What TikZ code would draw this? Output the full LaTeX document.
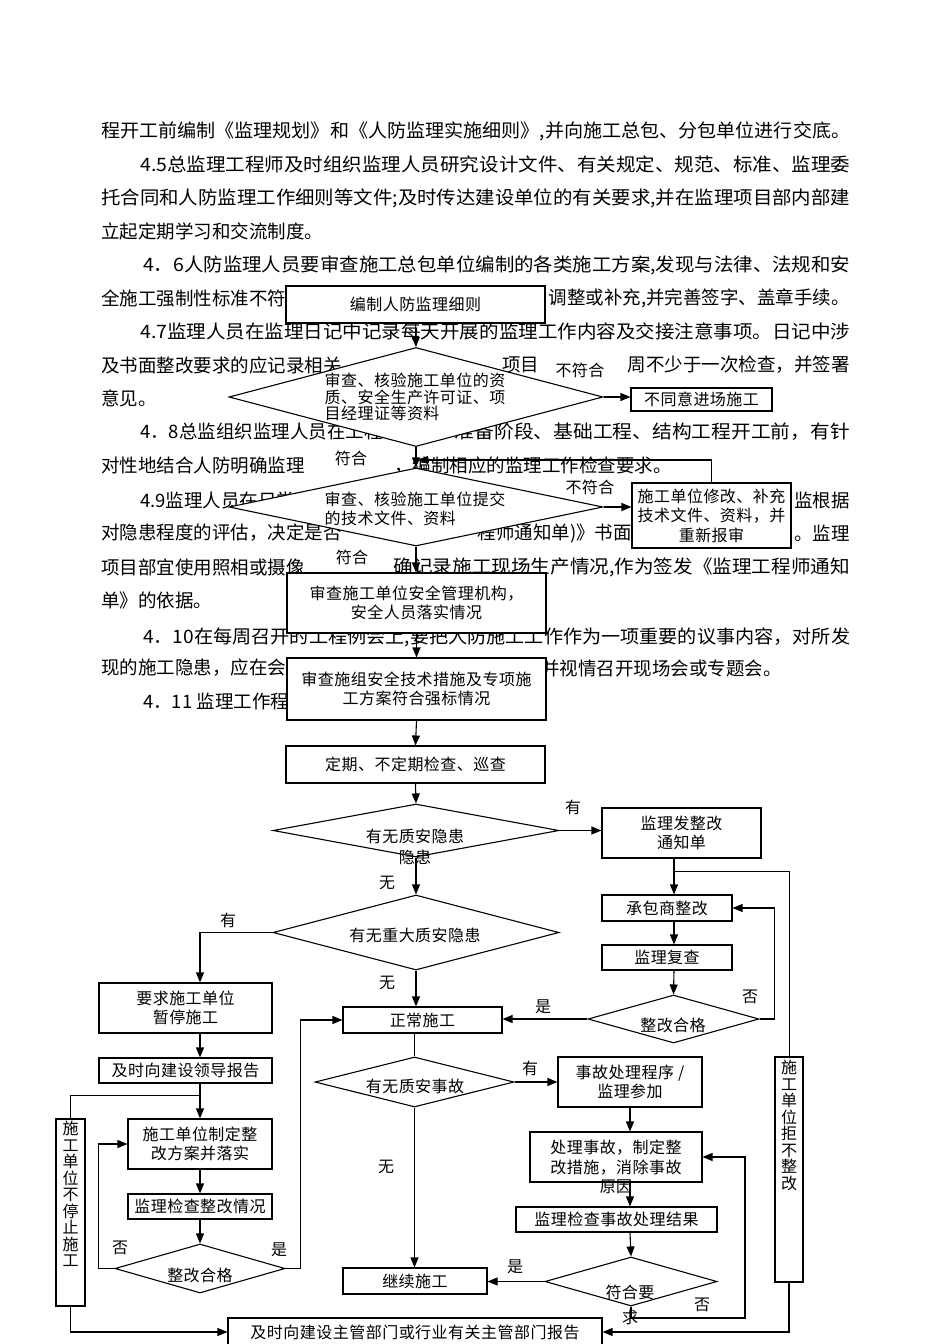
\documentclass[tikz,border=0pt]{standalone}
\usepackage{graphicx}
\usepackage{fontspec}
\setmainfont{Noto Sans CJK SC}
\newfontfamily\flowfont[LetterSpace=3]{Noto Sans CJK SC}
\usetikzlibrary{shapes.geometric,arrows.meta}
\newcommand{\fitline}[2]{\resizebox{#1}{\height}{#2}}

\begin{document}
\begin{tikzpicture}[x=1pt,y=-1pt]
       \tikzstyle{bodytext}=[inner sep=0pt, font=\fontsize{18.5}{20}\selectfont]
       \tikzstyle{flowbox}=[draw, fill=white, line width=1.1pt, inner sep=0pt, align=center, font=\flowfont\fontsize{16}{18.5}\selectfont]
       \tikzstyle{decision}=[draw, fill=white, shape=diamond, line width=1.1pt, inner sep=0pt]
       \tikzstyle{dtext}=[inner sep=0pt, align=center, font=\flowfont\fontsize{16}{16.5}\selectfont]
       \tikzstyle{tag}=[inner sep=1pt, font=\flowfont\fontsize{16}{16.5}\selectfont]
       \tikzstyle{link}=[draw, line width=1.1pt, -{Triangle[length=10pt,width=8pt]}]
       \useasboundingbox (0,0) rectangle (950,1344);
       \fill[white] (0,0) rectangle (950,1344);

       % body text of the page
       \node[bodytext, anchor=west] (p1) at (101,131) {\fitline{749pt}{程开工前编制《监理规划》和《人防监理实施细则》,并向施工总包、分包单位进行交底。}};
       \node[bodytext, anchor=west] (p2) at (140,164) {\fitline{710pt}{4.5总监理工程师及时组织监理人员研究设计文件、有关规定、规范、标准、监理委}};
       \node[bodytext, anchor=west] (p3) at (101,198) {\fitline{749pt}{托合同和人防监理工作细则等文件;及时传达建设单位的有关要求,并在监理项目部内部建}};
       \node[bodytext, anchor=west] (p4) at (101,231) {立起定期学习和交流制度。};
       \node[bodytext, anchor=west] (p5) at (143,265) {\fitline{707pt}{4．6人防监理人员要审查施工总包单位编制的各类施工方案,发现与法律、法规和安}};
       \node[bodytext, anchor=west] (p6a) at (101,298) {全施工强制性标准不符};
       \node[bodytext, anchor=east] (p6b) at (850,298) {调整或补充,并完善签字、盖章手续。};
       \node[bodytext, anchor=west] (p7) at (140,331) {\fitline{710pt}{4.7监理人员在监理日记中记录每天开展的监理工作内容及交接注意事项。日记中涉}};
       \node[bodytext, anchor=west] (p8a) at (101,365) {及书面整改要求的应记录相关};
       \node[bodytext, anchor=west] (p8b) at (502,365) {项目};
       \node[bodytext, anchor=east] (p8c) at (850,365) {周不少于一次检查，并签署};
       \node[bodytext, anchor=west] (p9) at (101,398) {意见。};
       \node[bodytext, anchor=west] (p10a) at (140,432) {4．8总监组织监理人员在工程};
       \node[bodytext, anchor=east] (p10b) at (850,432) {\fitline{395pt}{准备阶段、基础工程、结构工程开工前，有针}};
       \node[bodytext, anchor=west] (p11a) at (101,466) {对性地结合人防明确监理};
       \node[bodytext, anchor=east] (p11b) at (672,466) {，编制相应的监理工作检查要求。};
       \node[bodytext, anchor=west] (p12a) at (140,500) {4.9监理人员在日常};
       \node[bodytext, anchor=east] (p12b) at (850,500) {监根据};
       \node[bodytext, anchor=west] (p13a) at (101,533) {对隐患程度的评估，决定是否};
       \node[bodytext, anchor=east] (p13b) at (632,533) {程师通知单)》书面};
       \node[bodytext, anchor=east] (p13c) at (850,533) {。监理};
       \node[bodytext, anchor=west] (p14a) at (101,567) {项目部宜使用照相或摄像};
       \node[bodytext, anchor=east] (p14b) at (850,567) {\fitline{456pt}{确记录施工现场生产情况,作为签发《监理工程师通知}};
       \node[bodytext, anchor=west] (p15) at (101,600) {单》的依据。};
       \node[bodytext, anchor=west] (p16) at (143,637) {\fitline{707pt}{4．10在每周召开的工程例会上,要把人防施工工作作为一项重要的议事内容，对所发}};
       \node[bodytext, anchor=west] (p17a) at (101,668) {现的施工隐患，应在会};
       \node[bodytext, anchor=west] (p17b) at (541,668) {并视情召开现场会或专题会。};
       \node[bodytext, anchor=west] (p18) at (143,701) {4．11 监理工作程序};

       % entry checks
       \node[flowbox, minimum width=259pt, minimum height=37pt] (plan) at (415.5,304.5) {编制人防监理细则};
       \node[decision, minimum width=374pt, minimum height=99pt] (qual) at (416,397) {};
       \node[dtext, align=left] (qualtxt) at (415,397) {审查、核验施工单位的资\\质、安全生产许可证、项\\目经理证等资料};
       \node[flowbox, minimum width=141pt, minimum height=23pt] (reject) at (701.5,399.5) {不同意进场施工};
       \node[decision, minimum width=374pt, minimum height=78pt] (tech) at (416,507) {};
       \node[dtext, align=left, font=\flowfont\fontsize{16}{19}\selectfont] (techtxt) at (415,508.5) {审查、核验施工单位提交\\的技术文件、资料};
       \node[flowbox, minimum width=159pt, minimum height=65pt, font=\flowfont\fontsize{16}{19.5}\selectfont] (revise) at (711.5,515.5) {施工单位修改、补充\\技术文件、资料，并\\重新报审};
       \node[flowbox, minimum width=259pt, minimum height=60pt] (staff) at (416.5,603) {审查施工单位安全管理机构，\\安全人员落实情况};
       \node[flowbox, minimum width=259pt, minimum height=62pt] (measure) at (416.5,689) {审查施组安全技术措施及专项施\\工方案符合强标情况};
       \node[flowbox, minimum width=259pt, minimum height=37pt] (patrol) at (415.5,764.5) {定期、不定期检查、巡查};

       % hazards
       \node[decision, minimum width=286pt, minimum height=53pt] (hazard) at (416,830.5) {};
       \node[dtext, font=\flowfont\fontsize{16}{21}\selectfont] (hazardtxt) at (415,847) {有无质安隐患\\隐患};
       \node[flowbox, minimum width=159pt, minimum height=50pt] (notice) at (681.5,833) {监理发整改\\通知单};
       \node[decision, minimum width=286pt, minimum height=75pt] (major) at (416,932.5) {};
       \node[dtext] (majortxt) at (415,935) {有无重大质安隐患};
       \node[flowbox, minimum width=173pt, minimum height=50pt] (halt) at (185.5,1008) {要求施工单位\\暂停施工};
       \node[flowbox, minimum width=173pt, minimum height=25pt] (lead) at (185.5,1070.5) {及时向建设领导报告};
       \node[flowbox, minimum width=144pt, minimum height=50pt] (plantwo) at (200,1144) {施工单位制定整\\改方案并落实};
       \node[flowbox, minimum width=144pt, minimum height=25pt] (check) at (200,1206.5) {监理检查整改情况};
       \node[decision, minimum width=170pt, minimum height=49pt] (okone) at (200,1268.5) {};
       \node[dtext] (okonetxt) at (200,1275) {整改合格};
       \node[flowbox, minimum width=29pt, minimum height=187pt] (nostop) at (70.5,1212.5) {};
       \node[dtext, anchor=north] (nostoptxt) at (70.5,1121) {施\\工\\单\\位\\不\\停\\止\\施\\工};
       \node[flowbox, minimum width=159pt, minimum height=26pt] (normal) at (422.5,1020) {正常施工};
       \node[flowbox, minimum width=130pt, minimum height=26pt] (fix) at (667,908) {承包商整改};
       \node[flowbox, minimum width=130pt, minimum height=25pt] (recheck) at (667,957.5) {监理复查};
       \node[decision, minimum width=171pt, minimum height=48pt] (oktwo) at (673.5,1019) {};
       \node[dtext] (oktwotxt) at (673,1025) {整改合格};
       \node[flowbox, minimum width=28pt, minimum height=225pt] (refuse) at (789,1169.5) {};
       \node[dtext, anchor=north] (refusetxt) at (789,1060) {施\\工\\单\\位\\拒\\不\\整\\改};

       % accidents
       \node[decision, minimum width=199pt, minimum height=50pt] (accident) at (414.5,1082) {};
       \node[dtext] (accidenttxt) at (415,1086) {有无质安事故};
       \node[flowbox, minimum width=144pt, minimum height=50pt, font=\flowfont\fontsize{16}{19}\selectfont] (proc) at (630,1082) {事故处理程序 /\\监理参加};
       \node[flowbox, minimum width=172pt, minimum height=50pt] (handle) at (616,1157) {};
       \node[dtext, font=\flowfont\fontsize{16}{19.5}\selectfont] (handletxt) at (616,1167) {处理事故，制定整\\改措施，消除事故\\原因};
       \node[flowbox, minimum width=201pt, minimum height=25pt] (result) at (616.5,1219.5) {监理检查事故处理结果};
       \node[decision, minimum width=172pt, minimum height=49pt] (meet) at (631,1281.5) {};
       \node[dtext, font=\flowfont\fontsize{16}{25}\selectfont] (meettxt) at (630,1304.5) {符合要\\求};
       \node[flowbox, minimum width=144pt, minimum height=26pt] (cont) at (415,1281) {继续施工};
       \node[flowbox, minimum width=374pt, minimum height=28pt] (report) at (415,1332) {及时向建设主管部门或行业有关主管部门报告};

       \coordinate (fbk) at (418,460);
       \coordinate (lcol) at (200,0);
       \coordinate (rcol) at (674,0);
       \coordinate (acol) at (630,0);
       \coordinate (splitl) at (200,1095);
       \coordinate (splitr) at (674,871);
       \coordinate (mloop) at (745,1318);

       % connectors
       \draw[link] (plan.south) -- (qual.north);
       \draw[link] (qual.east) -- (qual.east -| reject.west);
       \draw[link] (qual.south) -- (tech.north);
       \draw[link] (tech.east) -- (tech.east -| revise.west);
       \draw[link] (revise.north) |- (fbk);
       \draw[link] (tech.south) -- (tech.south |- staff.north);
       \draw[link] (staff.south) -- (measure.north);
       \draw[link] (measure.south) -- (patrol.north);
       \draw[link] (patrol.south) -- (hazard.north);
       \draw[link] (hazard.east) -- (hazard.east -| notice.west);
       \draw[link] (hazard.south) -- (major.north);
       \draw[link] (major.west) -| (halt.north -| lcol);
       \draw[link] (major.south) -- (major.south |- normal.north);
       \draw[link] (halt.south -| lcol) -- (lead.north -| lcol);
       \draw[link] (lead.south -| lcol) -- (plantwo.north);
       \draw (splitl) -| (nostop.north);
       \draw[link] (plantwo.south) -- (check.north);
       \draw[link] (check.south) -- (okone.north);
       \draw[link] (okone.west) -- ++(-16,0) |- (plantwo.west);
       \draw[link] (okone.east) -- ++(15,0) |- (normal.west);
       \draw[link] (nostop.south) |- (report.west);
       \draw[link] (notice.south -| rcol) -- (fix.north -| rcol);
       \draw (splitr) -| (refuse.north);
       \draw[link] (fix.south -| rcol) -- (recheck.north -| rcol);
       \draw[link] (recheck.south -| rcol) -- (oktwo.north);
       \draw[link] (oktwo.west) -- (oktwo.west -| normal.east);
       \draw[link] (oktwo.east) -- ++(15,0) |- (fix.east);
       \draw[link] (refuse.south) |- (report.east);
       \draw (accident.north |- normal.south) -- (accident.north);
       \draw[link] (accident.east) -- (proc.west);
       \draw[link] (accident.south) -- (accident.south |- cont.north);
       \draw[link] (proc.south) -- (proc.south |- handle.north);
       \draw[link] (handle.south -| acol) -- (result.north -| acol);
       \draw[link] (result.south -| acol) -- (meet.north);
       \draw[link] (meet.west) -- (meet.west -| cont.east);
       \draw[link] (meet.south) |- (mloop) |- (handle.east);

       % branch labels
       \node[tag, fill=white] (nq) at (580,370) {不符合};
       \node[tag, fill=white] (yq) at (351,458) {符合};
       \node[tag, fill=white] (nt) at (590,487) {不符合};
       \node[tag, fill=white] (yt) at (352,557) {符合};
       \node[tag] (yh) at (573,807) {有};
       \node[tag] (nh) at (387,883) {无};
       \node[tag] (ym) at (228,920) {有};
       \node[tag] (nm) at (387,983) {无};
       \node[tag] (yo) at (543,1007) {是};
       \node[tag] (no) at (750,997) {否};
       \node[tag] (ya) at (530,1068) {有};
       \node[tag] (na) at (386,1167) {无};
       \node[tag] (nl) at (120,1248) {否};
       \node[tag] (yl) at (279,1250) {是};
       \node[tag] (ye) at (515,1267) {是};
       \node[tag] (ne) at (702,1305) {否};
\end{tikzpicture}
\end{document}
